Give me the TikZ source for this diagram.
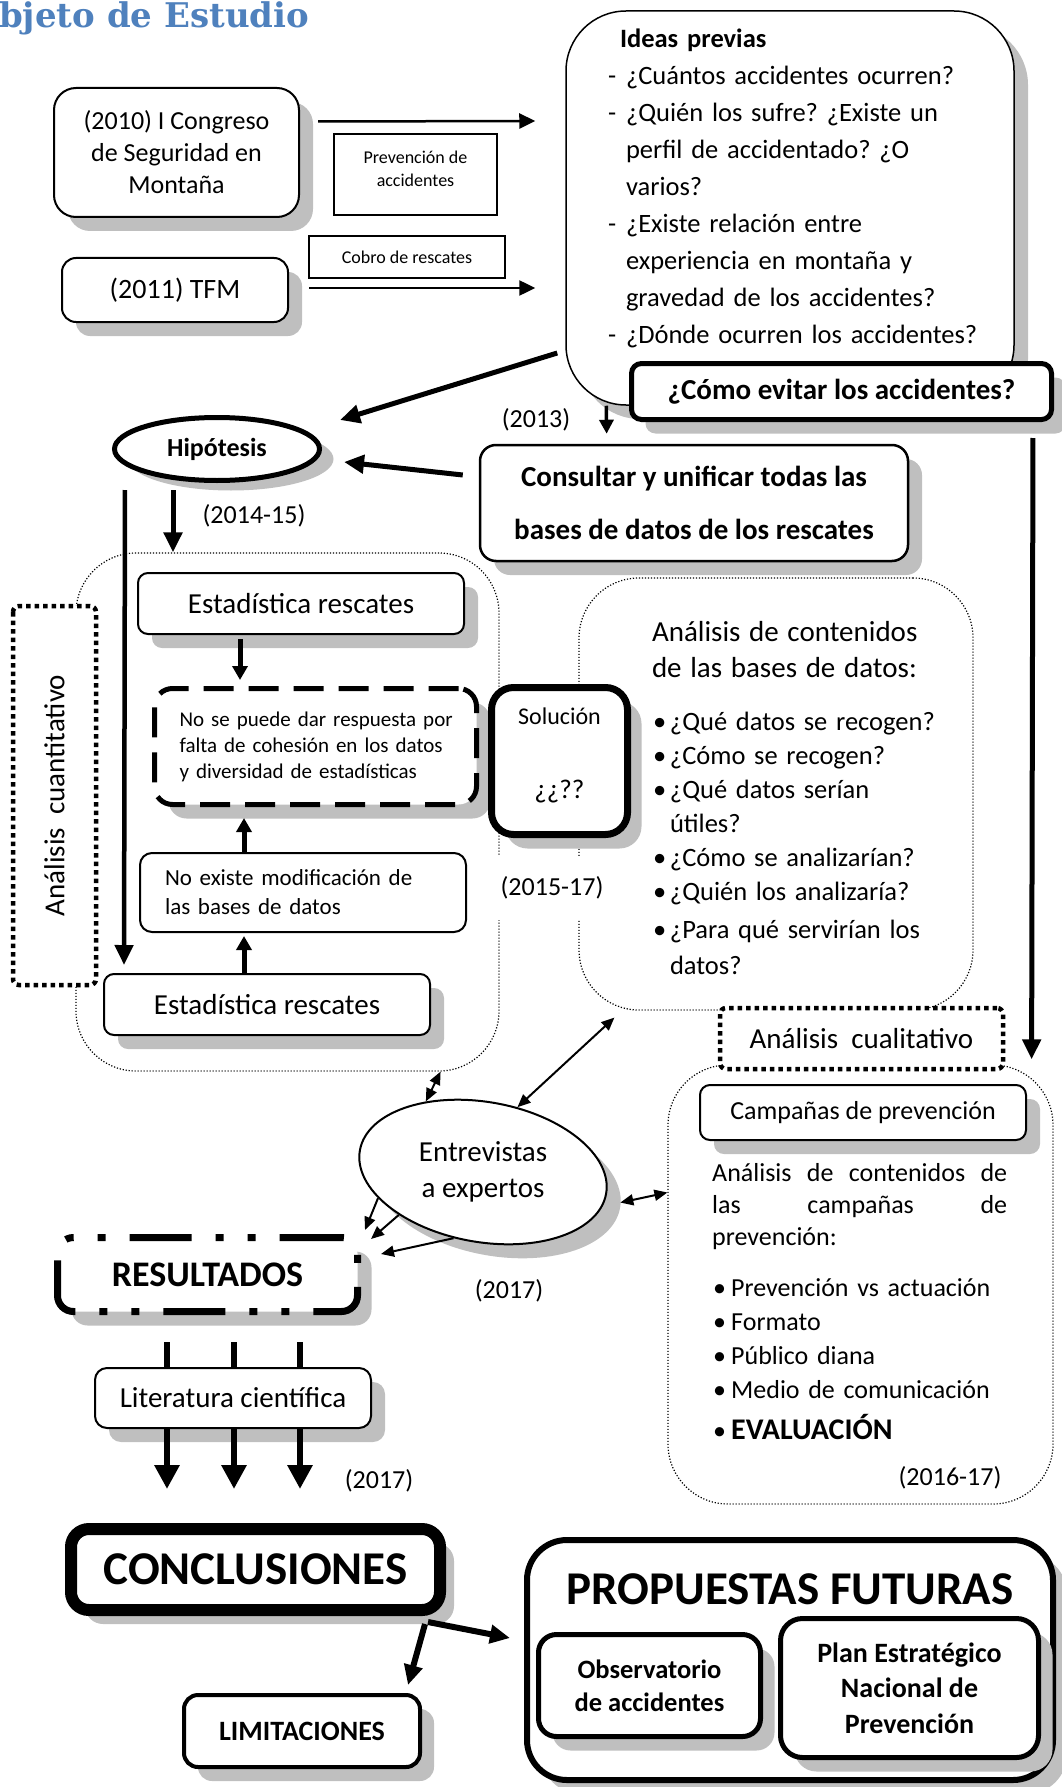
\documentclass[tikz,border=0pt]{standalone}
\usepackage{fontspec}
\usepackage{graphicx}
\setmainfont{Carlito}
\newfontfamily\titlefont{DejaVu Serif}
\usetikzlibrary{arrows.meta,positioning,shapes.geometric,shadows}
\definecolor{shadowgray}{RGB}{191,191,191}
\definecolor{titleblue}{RGB}{79,129,189}
\newcommand{\fsz}[2]{\fontsize{#1}{#2}\selectfont}
\newcommand{\blt}[1][17pt]{\makebox[#1][l]{•}}
\newcommand{\dsh}{\makebox[18pt][l]{-}}
\frenchspacing

\begin{document}
\begin{tikzpicture}[
      x=1pt, y=-1pt,
      every node/.style={font=\fsz{26}{32}},
      shadowed/.style={drop shadow={shadow xshift=14pt, shadow yshift=-14pt,
        fill=shadowgray, opacity=1}},
      box/.style={
        rectangle, draw, line width=2pt, rounded corners=12pt,
        fill=white, align=center, inner sep=0pt
      },
      roundbox/.style={box, shadowed},
      plainbox/.style={
        rectangle, draw, line width=1.5pt, fill=white,
        align=center, inner sep=0pt, font=\fsz{18}{23}
      },
      region/.style={
        rectangle, draw, line width=1.2pt, dash pattern=on 1.2pt off 1.8pt,
        rounded corners=60pt, inner sep=0pt
      },
      tagbox/.style={
        rectangle, draw, line width=4.5pt, dash pattern=on 4.5pt off 4pt,
        rounded corners=6pt, fill=white, inner sep=0pt
      },
      yearlbl/.style={font=\fsz{26}{32}, inner sep=2pt},
      midarr/.style={line width=2.5pt, -{Triangle[length=16pt,width=15pt]}},
      medarr/.style={line width=3.5pt, -{Triangle[length=14pt,width=14pt]}},
      fatarr/.style={line width=5pt, -{Triangle[length=20pt,width=18pt]}},
      vertarr/.style={line width=5pt, -{Triangle[length=14pt,width=15pt]}},
      barline/.style={line width=6pt},
      bararr/.style={line width=6pt, -{Triangle[length=24pt,width=24pt]}},
      thinarr/.style={line width=2pt, -{Triangle[length=13pt,width=11pt]}},
      bothway/.style={line width=2pt,
        {Triangle[length=13pt,width=11pt]}-{Triangle[length=13pt,width=11pt]}}
    ]
    \useasboundingbox (0,0) rectangle (1062,1787);

    % ===== Title =====
    \node[anchor=base west, inner sep=0pt, text=titleblue,
      font=\titlefont\bfseries\fsz{34}{40}] (title) at (-1,28) {bjeto de Estudio};

    % ===== Background regions =====
    \node[region, minimum width=423pt, minimum height=518pt] (lq) at (287.5,812) {};
    \node[region, minimum width=385pt, minimum height=439pt] (camp) at (860.5,1284.5) {};
    \node[region, minimum width=394pt, minimum height=432pt, text width=340pt,
      inner xsep=27pt, align=left] (cont) at (776,794) {%
      \fsz{29}{36}\rule{0pt}{29pt}\hspace*{46pt}Análisis de contenidos\\
      \hspace*{46pt}de las bases de datos:\par
      \vspace{19pt}\fsz{26.5}{34}%
      \hspace*{47pt}\blt¿Qué datos se recogen?\\
      \hspace*{47pt}\blt¿Cómo se recogen?\\
      \hspace*{47pt}\blt¿Qué datos serían\\
      \hspace*{64pt}útiles?\\
      \hspace*{47pt}\blt¿Cómo se analizarían?\\
      \hspace*{47pt}\blt¿Quién los analizaría?\\[4pt]
      \hspace*{47pt}\blt¿Para qué servirían los\\[4pt]
      \hspace*{64pt}datos?};

    % ===== Origins =====
    \node[roundbox, rounded corners=22pt, minimum width=245pt, minimum height=129pt]
      (cong) at (176.5,152.5) {(2010) I Congreso\\de Seguridad en\\Montaña};
    \node[roundbox, rounded corners=14pt, minimum width=226pt, minimum height=64pt,
      font=\fsz{28}{34}] (tfm) at (175,290) {(2011) TFM};
    \node[plainbox, minimum width=163pt, minimum height=81pt] (prev) at (415.5,174.5)
      {Prevención de\\accidentes\rule[-12pt]{0pt}{0pt}};
    \node[plainbox, minimum width=196pt, minimum height=42pt] (cobro) at (407,257)
      {Cobro de rescates};

    % ===== Previous ideas and main question =====
    \node[roundbox, line width=1.5pt, rounded corners=60pt, minimum width=448pt,
      minimum height=394pt, text width=406pt, inner xsep=21pt, align=left,
      font=\fsz{26.5}{37}] (ideas) at (790,208) {%
      \hspace*{33pt}\textbf{Ideas previas}\\
      \hspace*{21pt}\dsh¿Cuántos accidentes ocurren?\\
      \hspace*{21pt}\dsh¿Quién los sufre? ¿Existe un\\
      \hspace*{39pt}perfil de accidentado? ¿O\\
      \hspace*{39pt}varios?\\
      \hspace*{21pt}\dsh¿Existe relación entre\\
      \hspace*{39pt}experiencia en montaña y\\
      \hspace*{39pt}gravedad de los accidentes?\\
      \hspace*{21pt}\dsh¿Dónde ocurren los accidentes?\rule[-44pt]{0pt}{0pt}};
    \node[roundbox, line width=5pt, rounded corners=10pt, minimum width=420pt,
      minimum height=56pt, font=\bfseries\fsz{29}{35}] (evit) at (841.5,391.5)
      {¿Cómo evitar los accidentes?};

    \node[ellipse, draw, line width=5pt, fill=white, minimum width=205pt,
      minimum height=63pt, inner sep=0pt, font=\bfseries\fsz{26}{32},
      drop shadow={shadow xshift=14pt, shadow yshift=-10pt, fill=shadowgray, opacity=1}]
      (hip) at (217,449) {Hipótesis};
    \node[roundbox, line width=2.5pt, rounded corners=16pt, minimum width=428pt,
      minimum height=116pt, font=\bfseries\fsz{29}{53}] (cons) at (694,503)
      {Consultar y unificar todas las\\bases de datos de los rescates};

    % ===== Quantitative part =====
    \node[tagbox, rotate=90, minimum width=379pt, minimum height=83pt,
      font=\fsz{29}{35}] (cuant) at (54.5,795.5) {Análisis\ \ cuantitativo};
    \node[roundbox, minimum width=326pt, minimum height=61pt, rounded corners=10pt,
      font=\fsz{29}{35}] (est1) at (301,603.5) {Estadística rescates};
    \node[roundbox, line width=5pt, dash pattern=on 30pt off 15pt, rounded corners=18pt,
      minimum width=322pt, minimum height=116pt, text width=296pt, inner xsep=13pt,
      align=left, font=\fsz{21}{26}] (dbox) at (315.5,746.5)
      {\hspace*{12pt}No se puede dar respuesta por\\
       \hspace*{12pt}falta de cohesión en los datos\\
       \hspace*{12pt}y diversidad de estadísticas};
    \node[box, minimum width=326pt, minimum height=79pt, text width=296pt,
      inner xsep=15pt, align=left, font=\fsz{23}{29}] (noex) at (303,892.5)
      {\hspace*{10pt}No existe modificación de\\\hspace*{10pt}las bases de datos};
    \node[roundbox, minimum width=326pt, minimum height=61pt, rounded corners=10pt,
      font=\fsz{29}{35}] (est2) at (267,1004.5) {Estadística rescates};

    \node[yearlbl, fill=white, minimum width=118pt, minimum height=64pt]
      (y1517) at (552,888) {(2015-17)};
    \node[roundbox, line width=7pt, rounded corners=22pt, minimum width=136pt,
      minimum height=147pt, font=\fsz{24}{74}] (sol) at (559.5,761)
      {Solución\\{\fsz{27}{74}¿¿??}\rule[-16pt]{0pt}{0pt}};

    % ===== Qualitative part =====
    \node[tagbox, minimum width=283pt, minimum height=61pt, font=\fsz{29}{35}]
      (cual) at (861.5,1038.5) {Análisis\ \ cualitativo};
    \node[roundbox, minimum width=326pt, minimum height=55pt, rounded corners=10pt]
      (campbox) at (863,1112.5) {Campañas de prevención};
    \node[anchor=north west, inner sep=0pt, text width=296pt, align=left,
      font=\fsz{26}{32}] (camptxt) at (712,1163) {%
      \makebox[295pt][l]{Análisis\hfill de\hfill contenidos\hfill de}\\
      \makebox[295pt][l]{las\hfill campañas\hfill de}\\
      prevención:\par
      \vspace{17pt}\fsz{26}{34}%
      \hspace*{1pt}\blt[18pt]Prevención vs actuación\\
      \hspace*{1pt}\blt[18pt]Formato\\
      \hspace*{1pt}\blt[18pt]Público diana\\
      \hspace*{1pt}\blt[18pt]Medio de comunicación\\[9pt]
      \hspace*{1pt}\blt[18pt]{\bfseries\fsz{30}{34}EVALUACIÓN}};
    \node[yearlbl] (y1617) at (950,1478) {(2016-17)};

    % ===== Interviews and results =====
    \node[ellipse, draw, line width=2pt, fill=white, rotate=-10, minimum width=250pt,
      minimum height=140pt, inner sep=0pt,
      drop shadow={shadow xshift=14pt, shadow yshift=-14pt, fill=shadowgray, opacity=1}]
      (ent) at (483,1172)
      {\rotatebox{10}{\fsz{29}{36}\begin{tabular}{@{}c@{}}Entrevistas\\a expertos\end{tabular}}};
    \node[roundbox, line width=7pt,
      dash pattern=on 62pt off 24pt on 8pt off 24pt on 8pt off 24pt,
      rounded corners=16pt, minimum width=300pt, minimum height=74pt,
      font=\bfseries\fsz{36}{42}] (res) at (207.5,1274.5) {RESULTADOS};
    \node[roundbox, minimum width=276pt, minimum height=60pt, rounded corners=12pt,
      font=\fsz{29}{35}] (lit) at (233,1398) {Literatura científica};
    \node[roundbox, line width=12pt, rounded corners=18pt, minimum width=369pt,
      minimum height=81pt, font=\bfseries\fsz{47}{54}] (concl) at (255.5,1569.5)
      {CONCLUSIONES};
    \node[roundbox, line width=4pt, rounded corners=14pt, minimum width=236pt,
      minimum height=72pt, font=\bfseries\fsz{28}{34}] (lim) at (302,1731) {LIMITACIONES};

    % ===== Future proposals =====
    \node[roundbox, line width=6pt, rounded corners=40pt, minimum width=526pt,
      minimum height=240pt, font=\bfseries\fsz{47}{54}] (prop) at (790,1660)
      {PROPUESTAS FUTURAS\rule[-141pt]{0pt}{0pt}};
    \node[roundbox, line width=5pt, rounded corners=18pt, minimum width=222pt,
      minimum height=102pt, font=\bfseries\fsz{26.5}{33}] (obs) at (649.5,1685.5)
      {Observatorio\\de accidentes};
    \node[roundbox, line width=5pt, rounded corners=22pt, minimum width=258pt,
      minimum height=139pt, font=\bfseries\fsz{28}{35.5}] (plan) at (909.5,1688)
      {Plan Estratégico\\Nacional de\\Prevención};

    % ===== Year labels =====
    \node[yearlbl] (y2013) at (536,420) {(2013)};
    \node[yearlbl] (y1415) at (254,516) {(2014-15)};
    \node[yearlbl] (y2017a) at (509,1291) {(2017)};
    \node[yearlbl] (y2017b) at (379,1481) {(2017)};

    % ===== Arrows: origins into the previous ideas =====
    \draw[midarr] ([xshift=18pt,yshift=31pt]cong.east) -- ([xshift=-30pt,yshift=87pt]ideas.west);
    \draw[midarr] ([xshift=20pt,yshift=2pt]tfm.east) -- ([xshift=-30pt,yshift=-80pt]ideas.west);

    % ===== Arrows: towards the hypothesis =====
    \draw[fatarr] ([xshift=-8pt,yshift=-145pt]ideas.west) -- ([xshift=18pt,yshift=29pt]hip.east);
    \draw[fatarr] ([xshift=-16pt,yshift=28pt]cons.west) -- ([xshift=22pt,yshift=-13pt]hip.east);
    \draw[medarr, shorten >=10pt] ([xshift=41pt]ideas.south west) -- ([xshift=128pt]cons.north west);
    \draw[fatarr, shorten <=16pt] ([xshift=-21pt]evit.south east)
      -- ([xshift=-22pt,yshift=5pt]camp.north east);

    % ===== Arrows: quantitative part =====
    \draw[fatarr, shorten <=7pt] ([xshift=-44pt]hip.south) -- ([xshift=-114.5pt]lq.north);
    \draw[fatarr, line width=4.5pt, shorten <=7pt, shorten >=8pt] ([xshift=-92pt]hip.south)
      -- ([xshift=21pt]est2.north west);
    \draw[vertarr, shorten <=4pt, shorten >=6pt] ([xshift=-61pt]est1.south) -- ([xshift=-75.5pt]dbox.north);
    \draw[vertarr, shorten >=11pt] ([xshift=-59pt]noex.north) -- ([xshift=-71.5pt]dbox.south);
    \draw[vertarr, shorten >=3pt] ([xshift=-23pt]est2.north) -- ([xshift=-59pt]noex.south);

    % ===== Arrows: interviews =====
    \draw[bothway] ([xshift=-59pt]lq.south east) -- (ent.139);
    \draw[bothway] (ent.72) -- ([xshift=36pt,yshift=-7pt]cont.south west);
    \draw[bothway, shorten <=18pt] (ent.354) -- ([yshift=92pt]camp.west);
    \draw[thinarr] (ent.204) -- ([xshift=4pt,yshift=4pt]res.north east);
    \draw[thinarr] (ent.217) -- ([xshift=10pt,yshift=-5pt]res.north east);
    \draw[thinarr] (ent.256) -- ([xshift=20pt,yshift=-20pt]res.north east);

    % ===== Arrows: results to conclusions =====
    \foreach \rx/\lx/\cx in {-40.5/-66/-88.5, 26.5/1/-21.5, 92.5/67/44.5} {
      \draw[barline, shorten <=27pt] ([xshift=\rx pt]res.south) -- ([xshift=\lx pt]lit.north);
      \draw[bararr, shorten >=34pt] ([xshift=\lx pt]lit.south) -- ([xshift=\cx pt]concl.north);
    }
    \draw[fatarr, line width=6pt] ([xshift=-21pt,yshift=-8pt]concl.south east)
      -- ([xshift=-14pt,yshift=8pt]lim.north east);
    \draw[fatarr, line width=6pt] ([xshift=-18pt,yshift=-6pt]concl.south east)
      -- ([xshift=-14pt,yshift=22pt]prop.west);
  \end{tikzpicture}
\end{document}
